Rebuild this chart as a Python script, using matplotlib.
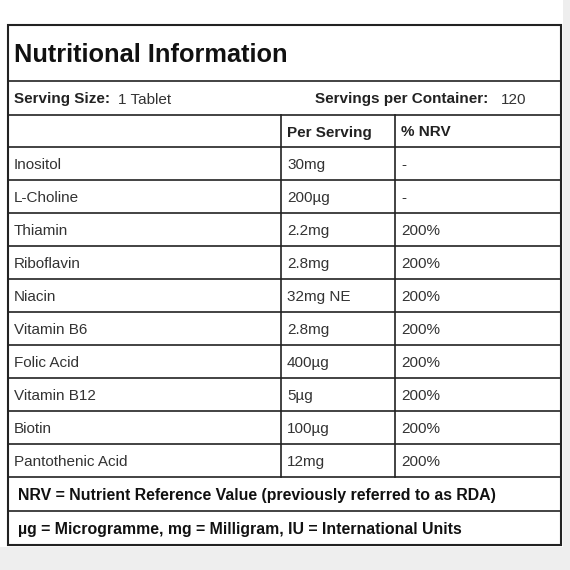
import matplotlib.pyplot as plt
from matplotlib.patches import Rectangle

plt.rcParams['font.family'] = ['Liberation Sans', 'DejaVu Sans']

title = 'Nutritional Information'
serving_size = '1 Tablet'
servings_per_container = '120'
col_headers = ['Per Serving', '% NRV']
nutrients = ['Inositol', 'L-Choline', 'Thiamin', 'Riboflavin', 'Niacin',
             'Vitamin B6', 'Folic Acid', 'Vitamin B12', 'Biotin', 'Pantothenic Acid']
per_serving = ['30mg', '200µg', '2.2mg', '2.8mg', '32mg NE',
               '2.8mg', '400µg', '5µg', '100µg', '12mg']
nrv = ['-', '-', '200%', '200%', '200%', '200%', '200%', '200%', '200%', '200%']
footnotes = ['NRV = Nutrient Reference Value (previously referred to as RDA)',
             'µg = Microgramme, mg = Milligram, IU = International Units']

FS = 11
fig = plt.figure(figsize=(5.7, 5.7), dpi=100)
ax = fig.add_axes([0, 0, 1, 1])
ax.set_xlim(0, 570)
ax.set_ylim(570, 0)
ax.axis('off')

# grey page strips right and bottom
ax.add_patch(Rectangle((563, 0), 7, 570, color='#eeeeee', lw=0))
ax.add_patch(Rectangle((0, 547), 570, 23, color='#eeeeee', lw=0))

L, R = 8, 561
C1, C2 = 281, 395
TOP, BOT = 25, 545
line = dict(color='#222222', lw=1.2)
va = 'center_baseline'

ax.add_patch(Rectangle((L, TOP), R - L, BOT - TOP, fill=False, ec='#222222', lw=1.5))
ax.text(14, 53, title, fontsize=18.3, fontweight='bold', va=va, color='#111111')
ax.plot([L, R], [81, 81], **line)

ax.text(14, 98, 'Serving Size:', fontsize=FS, fontweight='bold', va=va, color='#222222')
ax.text(118, 98, serving_size, fontsize=FS, va=va, color='#333333')
ax.text(315, 98, 'Servings per Container:', fontsize=FS, fontweight='bold', va=va, color='#222222')
ax.text(501, 98, servings_per_container, fontsize=FS, va=va, color='#333333')
ax.plot([L, R], [115, 115], **line)

row_h = 33
y0 = 115
ax.text(C1 + 6, y0 + 16, col_headers[0], fontsize=FS, fontweight='bold', va=va, color='#222222')
ax.text(C2 + 6, y0 + 16, col_headers[1], fontsize=FS, fontweight='bold', va=va, color='#222222')
y0 += 32
ax.plot([L, R], [y0, y0], **line)
for i, (n, p, v) in enumerate(zip(nutrients, per_serving, nrv)):
    yc = y0 + i * row_h + row_h / 2
    ax.text(14, yc, n, fontsize=FS, va=va, color='#333333')
    ax.text(C1 + 6, yc, p, fontsize=FS, va=va, color='#333333')
    ax.text(C2 + 6, yc, v, fontsize=FS, va=va, color='#333333')
    ax.plot([L, R], [y0 + (i + 1) * row_h] * 2, **line)
y_end = y0 + len(nutrients) * row_h
ax.plot([C1, C1], [115, y_end], **line)
ax.plot([C2, C2], [115, y_end], **line)

for i, f in enumerate(footnotes):
    yc = y_end + i * 34 + 17
    ax.text(18, yc, f, fontsize=11.4, fontweight='bold', va=va, color='#111111')
    if i == 0:
        ax.plot([L, R], [y_end + 34] * 2, **line)

fig.savefig('out.png', dpi=100, facecolor='white')
